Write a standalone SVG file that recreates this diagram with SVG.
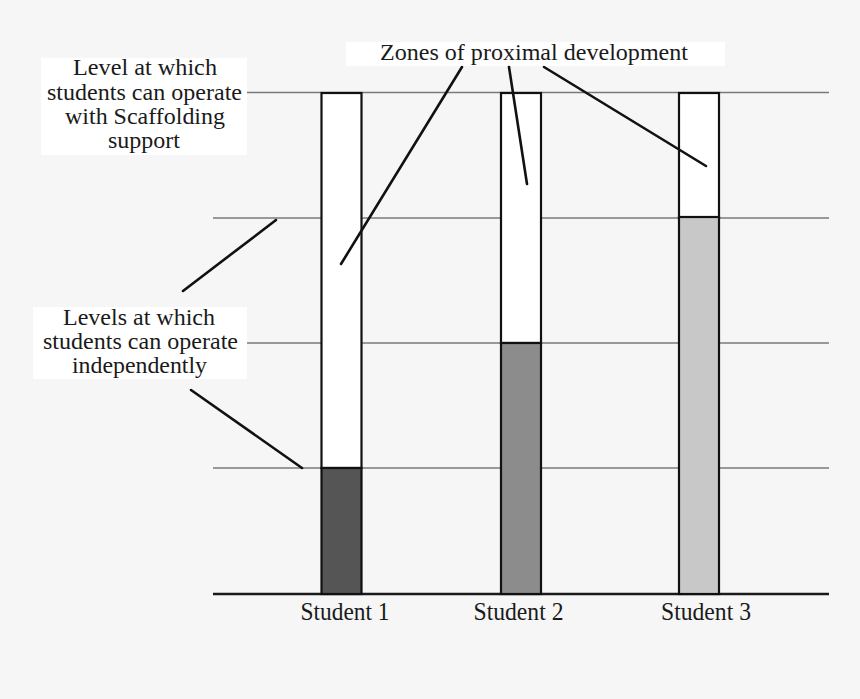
<svg xmlns="http://www.w3.org/2000/svg" width="860" height="699" viewBox="0 0 860 699">
<style>
.t{font-family:"Liberation Serif","Times New Roman",serif;font-size:24px;fill:#1a1a1a;text-anchor:middle}
.s{font-size:25px}
.g{stroke:#7a7a7a;stroke-width:1.5;fill:none}
.bar{stroke:#111;stroke-width:2.2}
.lead{stroke:#111;stroke-width:2.6;stroke-linecap:round;fill:none}
.box{fill:#ffffff}
</style>
<rect width="860" height="699" fill="#f6f6f6"/>
<g id="gridlines">
<line class="g" x1="247" y1="92.5" x2="829" y2="92.5"/>
<line class="g" x1="213" y1="218" x2="829" y2="218"/>
<line class="g" x1="247" y1="343" x2="829" y2="343"/>
<line class="g" x1="213" y1="468" x2="829" y2="468"/>
<line x1="213" y1="594" x2="829" y2="594" stroke="#1a1a1a" stroke-width="2.5"/>
</g>
<g id="student1">
<rect class="bar" x="321.5" y="93" width="40" height="375" fill="#ffffff"/>
<rect class="bar" x="321.5" y="468" width="40" height="126" fill="#555555"/>
<text class="t s" x="345" y="620" textLength="89" lengthAdjust="spacingAndGlyphs">Student 1</text>
</g>
<g id="student2">
<rect class="bar" x="501" y="93" width="40" height="250" fill="#ffffff"/>
<rect class="bar" x="501" y="343" width="40" height="251" fill="#8c8c8c"/>
<text class="t s" x="518.5" y="620" textLength="90" lengthAdjust="spacingAndGlyphs">Student 2</text>
</g>
<g id="student3">
<rect class="bar" x="679" y="93" width="40" height="125" fill="#ffffff"/>
<rect class="bar" x="679" y="217" width="40" height="377" fill="#c8c8c8"/>
<text class="t s" x="706" y="620" textLength="90" lengthAdjust="spacingAndGlyphs">Student 3</text>
</g>
<g id="label-scaffold">
<rect class="box" x="41" y="58" width="206" height="97"/>
<text class="t" x="145" y="75" textLength="144" lengthAdjust="spacingAndGlyphs">Level at which</text>
<text class="t" x="144.5" y="100" textLength="195" lengthAdjust="spacingAndGlyphs">students can operate</text>
<text class="t" x="145" y="124" textLength="160" lengthAdjust="spacingAndGlyphs">with Scaffolding</text>
<text class="t" x="144" y="148" textLength="72" lengthAdjust="spacingAndGlyphs">support</text>
</g>
<g id="label-independent">
<rect class="box" x="33" y="307" width="214" height="72"/>
<text class="t" x="139" y="325" textLength="152" lengthAdjust="spacingAndGlyphs">Levels at which</text>
<text class="t" x="140.5" y="349" textLength="195" lengthAdjust="spacingAndGlyphs">students can operate</text>
<text class="t" x="139.5" y="373" textLength="135" lengthAdjust="spacingAndGlyphs">independently</text>
</g>
<g id="label-zpd">
<rect class="box" x="346" y="42" width="379" height="24"/>
<text class="t" x="534" y="60" textLength="308" lengthAdjust="spacingAndGlyphs">Zones of proximal development</text>
</g>
<g id="connectors">
<line class="lead" x1="462" y1="67" x2="341" y2="264"/>
<line class="lead" x1="509" y1="67" x2="527" y2="184"/>
<line class="lead" x1="544" y1="67" x2="706" y2="166"/>
<line class="lead" x1="183" y1="291" x2="276" y2="220"/>
<line class="lead" x1="191" y1="390" x2="302" y2="468"/>
</g>
</svg>
